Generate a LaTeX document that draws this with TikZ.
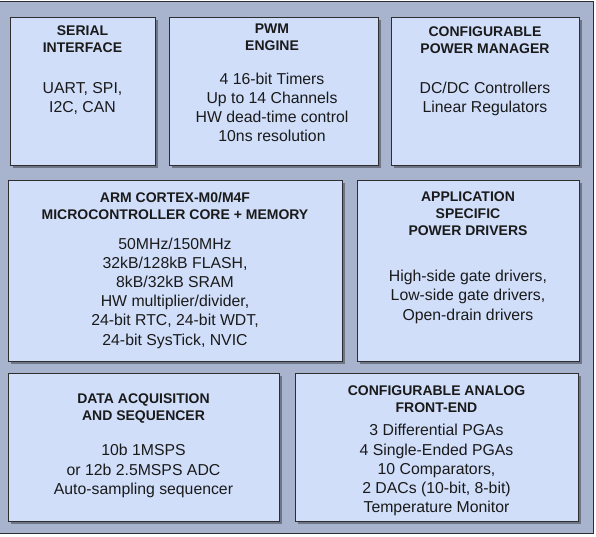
\documentclass[tikz,border=0pt]{standalone}
\usepackage{fontspec}
\setmainfont{Liberation Sans}
\usetikzlibrary{shadows}

\definecolor{panelbg}{HTML}{A8B4CE}
\definecolor{blockfill}{HTML}{D0DEFA}
\definecolor{blockline}{HTML}{2E2E2E}
\definecolor{inktext}{HTML}{1A1A1A}

\tikzset{
  panel/.style={draw=blockline, fill=panelbg, line width=1pt},
  block/.style={draw=blockline, fill=blockfill, line width=1.2pt, anchor=north west,
    inner sep=0pt, drop shadow={shadow xshift=2.5pt, shadow yshift=-2.5pt, fill=black, opacity=.35}},
  % texts are placed at the baseline of their last line
  blocktitle/.style={font=\fontsize{14}{17}\selectfont\bfseries, text=inktext,
    align=center, anchor=base, inner sep=0pt},
  blocktext/.style={font=\fontsize{15.8}{19.2}\selectfont, text=inktext,
    align=center, anchor=base, inner sep=0pt},
}

\begin{document}
\begin{tikzpicture}[x=1pt,y=-1pt]
  \useasboundingbox (0,0) rectangle (596,537);

  % outer panel
  \draw[panel] (-3,2) rectangle (593.5,533.5);

  % top row: serial, PWM, power manager
  \node[block, minimum width=145, minimum height=148] (serial) at (10,17) {};
  \node[block, minimum width=209, minimum height=148] (pwm) at (169,17) {};
  \node[block, minimum width=188, minimum height=148] (pmgr) at (391,17) {};

  \node[blocktitle] (serial-title) at (82.5,52.3) {SERIAL\\INTERFACE};
  \node[blocktext] (serial-text) at (82.5,113) {UART, SPI,\\I2C, CAN};

  \node[blocktitle] (pwm-title) at (272,51) {PWM\\ENGINE};
  \node[blocktext] (pwm-text) at (272,141.7) {4 16-bit Timers\\Up to 14 Channels\\HW dead-time control\\10ns resolution};

  \node[blocktitle] (pmgr-title) at (485,54) {CONFIGURABLE\\POWER MANAGER};
  \node[blocktext] (pmgr-text) at (485,112.7) {DC/DC Controllers\\Linear Regulators};

  % middle row: MCU core, power drivers
  \node[block, minimum width=334, minimum height=181] (mcu) at (8,180) {};
  \node[block, minimum width=222, minimum height=181] (drv) at (357,180) {};

  \node[blocktitle] (mcu-title) at (175,219) {ARM CORTEX-M0/M4F\\MICROCONTROLLER CORE + MEMORY};
  \node[blocktext] (mcu-text) at (175,345) {50MHz/150MHz\\32kB/128kB FLASH,\\8kB/32kB SRAM\\HW multiplier/divider,\\24-bit RTC, 24-bit WDT,\\24-bit SysTick, NVIC};

  \node[blocktitle] (drv-title) at (468,235.7) {APPLICATION\\SPECIFIC\\POWER DRIVERS};
  \node[blocktext] (drv-text) at (468,320) {High-side gate drivers,\\Low-side gate drivers,\\Open-drain drivers};

  % bottom row: data acquisition, analog front-end
  \node[block, minimum width=271, minimum height=148] (daq) at (8,373) {};
  \node[block, minimum width=283, minimum height=148] (afe) at (295,373) {};

  \node[blocktitle] (daq-title) at (143.5,420) {DATA ACQUISITION\\AND SEQUENCER};
  \node[blocktext] (daq-text) at (143.5,494.3) {10b 1MSPS\\or 12b 2.5MSPS ADC\\Auto-sampling sequencer};

  \node[blocktitle] (afe-title) at (436.5,412.3) {CONFIGURABLE ANALOG\\FRONT-END};
  \node[blocktext] (afe-text) at (436.5,512.7) {3 Differential PGAs\\4 Single-Ended PGAs\\10 Comparators,\\2 DACs (10-bit, 8-bit)\\Temperature Monitor};
\end{tikzpicture}
\end{document}
